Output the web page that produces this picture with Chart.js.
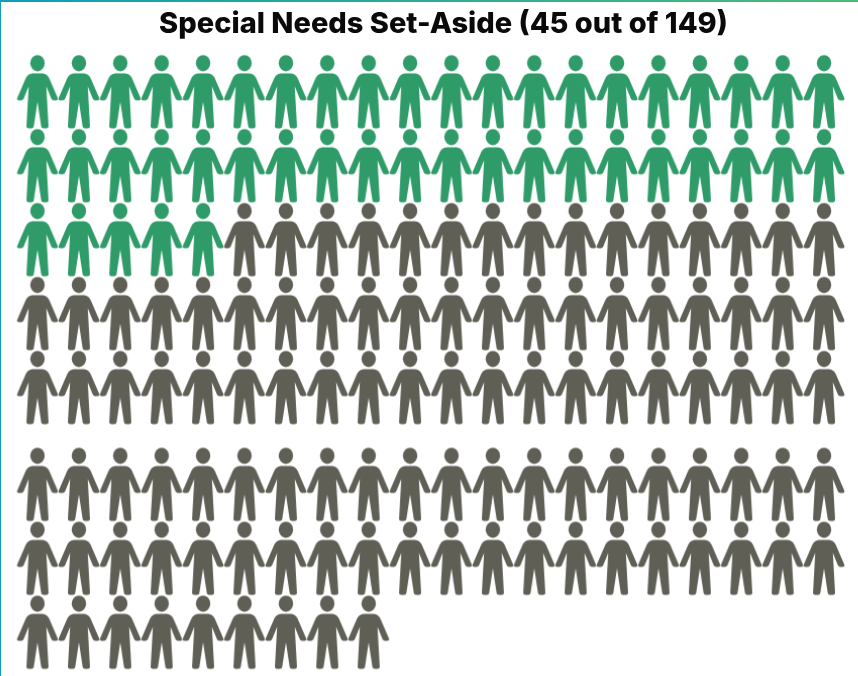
<!DOCTYPE html>
<html lang="en">
<head>
  <meta charset="UTF-8" />
  <title>Special Needs Set-Aside</title>
  <style>
    html, body { margin: 0; padding: 0; background: #fff; }
    body { width: 858px; height: 676px; overflow: hidden; position: relative; }
    /* thin frame from the original: gradient along the top, teal down the left */
    #topEdge { position: absolute; left: 0; top: 0; width: 858px; height: 2px; background: linear-gradient(to right, #0e9fb4, #4cba78); }
    #leftEdge { position: absolute; left: 0; top: 0; width: 1px; height: 676px; background: #0e9fb4; }
    canvas { display: block; }
  </style>
</head>
<body>
  <canvas id="peopleChart" width="858" height="676"></canvas>
  <div id="topEdge"></div>
  <div id="leftEdge"></div>
  <script src="https://cdn.jsdelivr.net/npm/chart.js"></script>
  <script>
    const chartTitle = 'Special Needs Set-Aside (45 out of 149)';
    const setAsideCount = 45;
    // people per row, and each row's slot on the y axis (wider gap after row 5)
    const rowCounts = [20, 20, 20, 20, 20, 20, 20, 9];
    const rowSlots = [1, 2, 3, 4, 5, 6.31, 7.31, 8.31];
    const setAsideColor = '#2e9b69';
    const otherColor = '#5f5f56';

    function personIcon(color) {
      const c = document.createElement('canvas');
      c.width = 44;
      c.height = 78;
      const g = c.getContext('2d');
      g.translate(22, 39);
      g.fillStyle = color;
      g.beginPath();
      g.ellipse(0, -28.7, 7.2, 8.1, 0, 0, Math.PI * 2);
      g.fill();
      // right half then left half, one continuous outline
      g.beginPath();
      g.moveTo(-5, -18.6);
      g.lineTo(5, -18.6);
      g.quadraticCurveTo(9.8, -18.4, 11.8, -13.5);
      g.lineTo(20.2, 6);
      g.quadraticCurveTo(21, 8.5, 18.5, 8.5);
      g.lineTo(16.2, 8.5);
      g.quadraticCurveTo(14.6, 8.4, 13.8, 6.8);
      g.lineTo(8.8, -5.5);
      g.lineTo(11, 34);
      g.quadraticCurveTo(11.2, 36.4, 8.8, 36.4);
      g.lineTo(6, 36.4);
      g.quadraticCurveTo(4, 36.4, 3.7, 34.5);
      g.lineTo(0, 10);
      g.lineTo(-3.7, 34.5);
      g.quadraticCurveTo(-4, 36.4, -6, 36.4);
      g.lineTo(-8.8, 36.4);
      g.quadraticCurveTo(-11.2, 36.4, -11, 34);
      g.lineTo(-8.8, -5.5);
      g.lineTo(-13.8, 6.8);
      g.quadraticCurveTo(-14.6, 8.4, -16.2, 8.5);
      g.lineTo(-18.5, 8.5);
      g.quadraticCurveTo(-21, 8.5, -20.2, 6);
      g.lineTo(-11.8, -13.5);
      g.quadraticCurveTo(-9.8, -18.4, -5, -18.6);
      g.closePath();
      g.fill();
      return c;
    }

    const setAsidePoints = [];
    const otherPoints = [];
    let seen = 0;
    rowCounts.forEach((count, r) => {
      for (let col = 1; col <= count; col++) {
        seen++;
        const point = { x: col, y: rowSlots[r] };
        if (seen <= setAsideCount) setAsidePoints.push(point);
        else otherPoints.push(point);
      }
    });

    new Chart(document.getElementById('peopleChart').getContext('2d'), {
      type: 'scatter',
      data: {
        datasets: [
          { label: 'Set-aside', data: setAsidePoints, pointStyle: personIcon(setAsideColor), clip: false },
          { label: 'Other', data: otherPoints, pointStyle: personIcon(otherColor), clip: false }
        ]
      },
      options: {
        responsive: false,
        animation: false,
        // left padding pushes the title right of centre, x range below allows for it
        layout: { padding: { left: 29 }, autoPadding: false },
        plugins: {
          legend: { display: false },
          tooltip: { enabled: false },
          title: {
            display: true,
            text: chartTitle,
            color: '#0a0a0a',
            font: { family: 'Inter', size: 29, weight: '800' },
            padding: { top: 7, bottom: 2 }
          }
        },
        scales: {
          x: { type: 'linear', display: false, min: 0.795, max: 20.82 },
          y: { type: 'linear', display: false, reverse: true, min: 0.35, max: 8.9 }
        }
      }
    });
  </script>
</body>
</html>
